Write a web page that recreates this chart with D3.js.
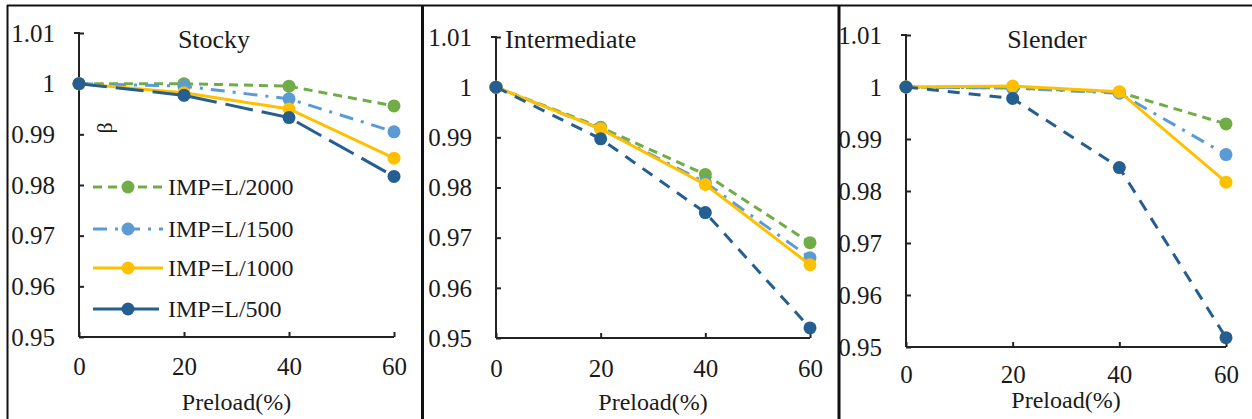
<!DOCTYPE html>
<html>
<head>
<meta charset="utf-8">
<script src="https://cdn.jsdelivr.net/npm/d3@7"></script>
<style>
  html, body { margin: 0; padding: 0; background: #fff; }
  svg { display: block; font-family: "Liberation Serif", "Times New Roman", serif; }
</style>
</head>
<body>
<div id="chart"></div>
<script>
// data
const preload = [0, 20, 40, 60];
const seriesNames = ['IMP=L/2000', 'IMP=L/1500', 'IMP=L/1000', 'IMP=L/500'];
const panelTitles = ['Stocky', 'Intermediate', 'Slender'];

const stockyValues = [
  [1.0, 1.0, 0.9995, 0.9956],
  [1.0, 0.9995, 0.997, 0.9905],
  [1.0, 0.9982, 0.995, 0.9853],
  [1.0, 0.9977, 0.9933, 0.9817]
];
const intermediateValues = [
  [1.0, 0.992, 0.9826, 0.969],
  [1.0, 0.9917, 0.981, 0.966],
  [1.0, 0.9917, 0.9806, 0.9646],
  [1.0, 0.9897, 0.975, 0.952]
];
const slenderValues = [
  [1.0, 0.9998, 0.999, 0.9929],
  [1.0, 0.9998, 0.9988, 0.987],
  [1.0, 1.0002, 0.9991, 0.9817],
  [1.0, 0.9978, 0.9845, 0.9518]
];

const yTicks = [0.95, 0.96, 0.97, 0.98, 0.99, 1, 1.01];
const yTickLabels = ['0.95', '0.96', '0.97', '0.98', '0.99', '1', '1.01'];
const xTicks = [0, 20, 40, 60];

// styling
const colors = ['#70AD47', '#5B9BD5', '#FFC000', '#255E91'];
const dashes = [
  ['9,6', '14,8,3,8', null, '28,9'],
  ['9,6', '14,8,3,8', null, '12,9'],
  ['9,6', '14,8,3,8', null, '12,9']
];

const W = 1252, H = 419;
const serif = '"Liberation Serif", "Times New Roman", serif';

// panel geometry (plot box for each of the three small charts)
const panels = [
  { values: stockyValues, x0: 79, x1: 394, yTop: 33, yBot: 337, titleX: 214, titleAnchor: 'middle', xLabY: 375, xTitleY: 410 },
  { values: intermediateValues, x0: 496, x1: 810, yTop: 37, yBot: 338, titleX: 505, titleAnchor: 'start', xLabY: 377, xTitleY: 410 },
  { values: slenderValues, x0: 906, x1: 1226, yTop: 35, yBot: 347, titleX: 1047, titleAnchor: 'middle', xLabY: 383, xTitleY: 408 }
];

const svg = d3.select('#chart').append('svg')
  .attr('width', W)
  .attr('height', H)
  .attr('viewBox', `0 0 ${W} ${H}`);

// frame lines
svg.append('line').attr('x1', 7).attr('x2', W).attr('y1', 5.5).attr('y2', 5.5)
  .attr('stroke', '#111').attr('stroke-width', 2);
svg.append('line').attr('x1', 7.5).attr('x2', 7.5).attr('y1', 5).attr('y2', H)
  .attr('stroke', '#111').attr('stroke-width', 2);
[422.5, 839].forEach(x => {
  svg.append('line').attr('x1', x).attr('x2', x).attr('y1', 5).attr('y2', H)
    .attr('stroke', '#111').attr('stroke-width', 3);
});

panels.forEach((p, pi) => {
  const x = d3.scaleLinear().domain([0, 60]).range([p.x0, p.x1]);
  const y = d3.scaleLinear().domain([0.95, 1.01]).range([p.yBot, p.yTop]);
  const g = svg.append('g');

  // y axis (ticks pointing inward)
  const yAxis = d3.axisLeft(y).tickValues(yTicks)
    .tickSize(-5).tickPadding(24)
    .tickFormat((d, i) => yTickLabels[i]);
  const ya = g.append('g').attr('transform', `translate(${p.x0},0)`).call(yAxis);
  ya.select('.domain').attr('d', `M${-5},${p.yTop}H0V${p.yBot}`).attr('stroke', '#222').attr('stroke-width', 2).attr('fill', 'none');
  ya.selectAll('.tick line').attr('stroke', '#222').attr('stroke-width', 2);
  ya.selectAll('.tick text')
    .attr('font-size', 25).attr('fill', '#1a1a1a')
    .attr('font-family', serif)
    .attr('x', -24).attr('dy', '0.33em');

  // x axis (ticks pointing inward)
  const xAxis = d3.axisBottom(x).tickValues(xTicks).tickSize(-5).tickFormat(d3.format('d'));
  const xa = g.append('g').attr('transform', `translate(0,${p.yBot})`).call(xAxis);
  xa.select('.domain').attr('d', `M${p.x0},0H${p.x1}`).attr('stroke', '#222').attr('stroke-width', 2);
  xa.selectAll('.tick line').attr('stroke', '#222').attr('stroke-width', 2);
  xa.selectAll('.tick text')
    .attr('font-size', 25).attr('fill', '#1a1a1a')
    .attr('font-family', serif)
    .attr('y', p.xLabY - p.yBot).attr('dy', null);

  // axis title
  g.append('text')
    .attr('x', (p.x0 + p.x1) / 2).attr('y', p.xTitleY)
    .attr('text-anchor', 'middle').attr('font-size', 24).attr('fill', '#1a1a1a')
    .text('Preload(%)');

  // panel title
  g.append('text')
    .attr('x', p.titleX).attr('y', 48)
    .attr('text-anchor', p.titleAnchor).attr('font-size', 26).attr('fill', '#1a1a1a')
    .text(panelTitles[pi]);

  // series lines and markers
  const line = d3.line().x((d, i) => x(preload[i])).y(d => y(d));
  p.values.forEach((vals, si) => {
    const sg = g.append('g');
    sg.append('path')
      .attr('d', line(vals))
      .attr('fill', 'none')
      .attr('stroke', colors[si])
      .attr('stroke-width', 3)
      .attr('stroke-dasharray', dashes[pi][si]);
    sg.selectAll('circle').data(vals).enter().append('circle')
      .attr('cx', (d, i) => x(preload[i]))
      .attr('cy', d => y(d))
      .attr('r', 6.5)
      .attr('fill', colors[si]);
  });

  // legend + beta label only on the first panel
  if (pi === 0) {
    g.append('text')
      .attr('transform', 'translate(112,128) rotate(-90)')
      .attr('text-anchor', 'middle').attr('font-size', 22).attr('fill', '#1a1a1a')
      .text('β');

    const legendY = [187, 229, 268, 309];
    seriesNames.forEach((name, si) => {
      const lg = g.append('g').attr('transform', `translate(0,${legendY[si]})`);
      lg.append('line')
        .attr('x1', 93).attr('x2', 163).attr('y1', 0).attr('y2', 0)
        .attr('stroke', colors[si]).attr('stroke-width', 3)
        .attr('stroke-dasharray', si === 3 ? '30,6' : dashes[0][si]);
      lg.append('circle').attr('cx', 128).attr('cy', 0).attr('r', 6.5).attr('fill', colors[si]);
      lg.append('text')
        .attr('x', 168).attr('y', 0).attr('dy', '0.35em')
        .attr('font-size', 24).attr('fill', '#1a1a1a')
        .text(name);
    });
  }
});
</script>
</body>
</html>
